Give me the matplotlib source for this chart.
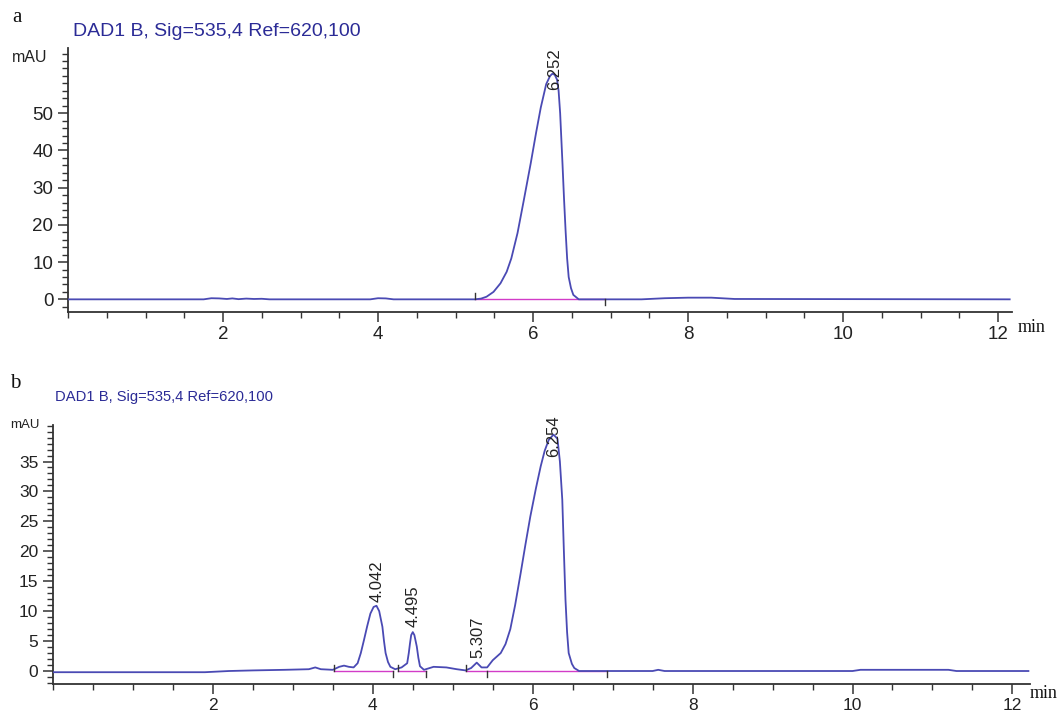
import matplotlib
matplotlib.use("Agg")
import matplotlib.pyplot as plt
from matplotlib.ticker import MultipleLocator

plt.rcParams['font.family'] = ['Liberation Sans', 'DejaVu Sans']

# ---------------- data ----------------
title_text = "DAD1 B, Sig=535,4 Ref=620,100"

# panel a trace (time in min, signal in mAU)
time_a = [0, 1.75, 1.85, 1.95, 2.05, 2.12, 2.2, 2.3, 2.4, 2.5, 2.6, 3.9, 4.0, 4.1, 4.2,
          5.25, 5.33, 5.40, 5.49, 5.58, 5.66, 5.72, 5.80, 5.88, 5.97, 6.04, 6.10, 6.17,
          6.22, 6.25, 6.28, 6.31, 6.33, 6.35, 6.38, 6.40, 6.42, 6.44, 6.46, 6.49, 6.52,
          6.59, 6.7, 7.4, 7.7, 8.0, 8.3, 8.6, 12.15]
signal_a = [0, 0, 0.3, 0.25, 0.1, 0.25, 0.05, 0.2, 0.1, 0.15, 0, 0, 0.3, 0.25, 0,
            0, 0.2, 0.7, 2.0, 4.3, 7.4, 11.0, 17.8, 26.5, 36.5, 44.8, 51.5, 57.8,
            60.0, 60.6, 60.3, 59.0, 56.0, 50.0, 36.5, 27.0, 18.5, 11.0, 6.0, 3.0, 1.2,
            0, 0, 0, 0.3, 0.45, 0.45, 0.1, 0]
peaks_a = [6.252]
peak_heights_a = [60.6]
baselines_a = [(5.25, 6.93)]
markers_a = [(5.25, 1), (6.93, -1)]

# panel b trace
time_b = [0, 1.9, 2.2, 2.5, 2.9, 3.2, 3.28, 3.35, 3.5, 3.58, 3.64, 3.7, 3.76, 3.81,
          3.85, 3.89, 3.93, 3.97, 4.01, 4.046, 4.08, 4.12, 4.14, 4.16, 4.19, 4.22,
          4.28, 4.36, 4.43, 4.45, 4.465, 4.48, 4.50, 4.52, 4.55, 4.57, 4.59, 4.64,
          4.76, 4.92, 5.05, 5.16, 5.23, 5.30, 5.36, 5.43, 5.50, 5.60, 5.66, 5.72,
          5.78, 5.85, 5.91, 5.97, 6.04, 6.10, 6.15, 6.20, 6.26, 6.31, 6.34, 6.37,
          6.39, 6.41, 6.43, 6.45, 6.49, 6.52, 6.58,
          7.5, 7.57, 7.65, 10.0, 10.1, 11.2, 11.3, 12.2]
signal_b = [-0.2, -0.2, 0, 0.1, 0.2, 0.3, 0.6, 0.3, 0.2, 0.7, 0.9, 0.7, 0.6, 1.3,
            3.0, 5.2, 7.5, 9.6, 10.7, 10.9, 10.0, 7.4, 5.0, 3.0, 1.5, 0.7,
            0.3, 0.6, 1.3, 3.0, 4.6, 6.0, 6.5, 6.0, 4.1, 2.2, 0.8, 0.2,
            0.7, 0.6, 0.3, 0.1, 0.5, 1.4, 0.6, 0.6, 1.8, 3.0, 4.5, 7.0,
            11.0, 16.4, 21.2, 25.8, 30.5, 34.2, 36.8, 38.6, 39.5, 38.8, 35.0, 28.6,
            20.0, 11.9, 6.5, 3.0, 1.2, 0.5, 0,
            0, 0.2, 0, 0, 0.2, 0.2, 0, 0]
peaks_b = [4.042, 4.495, 5.307, 6.254]
peak_heights_b = [10.9, 6.5, 1.4, 39.5]
baselines_b = [(3.52, 4.25), (4.31, 4.66), (5.16, 5.43), (5.43, 6.93)]
markers_b = [(3.52, 1), (4.25, -1), (4.31, 1), (4.66, -1), (5.16, 1), (5.43, -1), (6.93, -1)]

x_ticks = [2, 4, 6, 8, 10, 12]

# ---------------- style ----------------
trace_col = '#4a4ab4'
base_col = '#d23cc8'
title_col = '#2b2b96'
axis_col = '#333333'

fig = plt.figure(figsize=(10.64, 7.12), dpi=100)

W, H = 1064, 712


def make_axes(l, r, t, b):
    return fig.add_axes([l / W, 1 - b / H, (r - l) / W, (b - t) / H])


def style(ax, xlim, ylim, ymaj, ymin, fs):
    ax.set_xlim(*xlim)
    ax.set_ylim(*ylim)
    for s in ['top', 'right']:
        ax.spines[s].set_visible(False)
    for s in ['left', 'bottom']:
        ax.spines[s].set_color(axis_col)
        ax.spines[s].set_linewidth(1.3)
    ax.set_xticks(x_ticks)
    ax.xaxis.set_minor_locator(MultipleLocator(0.5))
    ax.yaxis.set_major_locator(MultipleLocator(ymaj))
    ax.yaxis.set_minor_locator(MultipleLocator(ymin))
    ax.tick_params(axis='both', which='major', length=7, width=1.1, colors=axis_col,
                   labelsize=fs, labelcolor='#222222')
    ax.tick_params(axis='both', which='minor', length=4, width=1.0, colors=axis_col)
    ax.tick_params(axis='x', which='major', pad=3)


# ---- panel a ----
axa = make_axes(68, 1012, 48, 312)
style(axa, (0, 12.18), (-3.4, 67.5), 10, 2, 13.5)
axa.set_yticks([0, 10, 20, 30, 40, 50])
for (x0, x1) in baselines_a:
    axa.plot([x0, x1], [0, 0], color=base_col, lw=1.0, zorder=2)
axa.plot(time_a, signal_a, color=trace_col, lw=1.3, zorder=3)
for (xm, d) in markers_a:
    axa.plot([xm, xm], [0, 1.6 * d], color='#333333', lw=1.0, zorder=4)
for pt, ph in zip(peaks_a, peak_heights_a):
    axa.text(pt + 0.03, ph - 4.3, f"{pt:.3f}", rotation=90, ha='center', va='bottom',
             fontsize=12, color='#222222')

fig.text(12 / W, 1 - 58 / H, "mAU", fontsize=11.5, ha='left', va='center', color='#222222')
fig.text(73 / W, 1 - 32 / H, title_text, fontsize=14, color=title_col, ha='left', va='center')
fig.text(12 / W, 1 - 18 / H, "a", fontsize=15, family='Liberation Serif', ha='left',
         va='center', color='#111111')
fig.text(1018 / W, 1 - 327 / H, "min", fontsize=13, family='Liberation Serif', ha='left',
         va='center', color='#111111')

# ---- panel b ----
axb = make_axes(53, 1030, 425, 684)
style(axb, (0, 12.22), (-2.17, 41.1), 5, 1, 12.5)
axb.set_yticks([0, 5, 10, 15, 20, 25, 30, 35])
for (x0, x1) in baselines_b:
    axb.plot([x0, x1], [0, 0], color=base_col, lw=1.0, zorder=2)
axb.plot(time_b, signal_b, color=trace_col, lw=1.3, zorder=3)
for (xm, d) in markers_b:
    axb.plot([xm, xm], [0, 1.0 * d], color='#333333', lw=1.0, zorder=4)
label_offsets_b = [0.6, 0.9, 0.8, -3.7]
for pt, ph, off in zip(peaks_b, peak_heights_b, label_offsets_b):
    axb.text(pt + 0.01, ph + off, f"{pt:.3f}", rotation=90, ha='center', va='bottom',
             fontsize=12, color='#222222')

fig.text(10 / W, 1 - 425 / H, "mAU", fontsize=9.5, ha='left', va='center', color='#222222')
fig.text(55 / W, 1 - 397 / H, title_text, fontsize=10.6, color=title_col, ha='left', va='center')
fig.text(10 / W, 1 - 384 / H, "b", fontsize=15, family='Liberation Serif', ha='left',
         va='center', color='#111111')
fig.text(1030 / W, 1 - 693 / H, "min", fontsize=13, family='Liberation Serif', ha='left',
         va='center', color='#111111')

fig.savefig("out.png", dpi=100)
